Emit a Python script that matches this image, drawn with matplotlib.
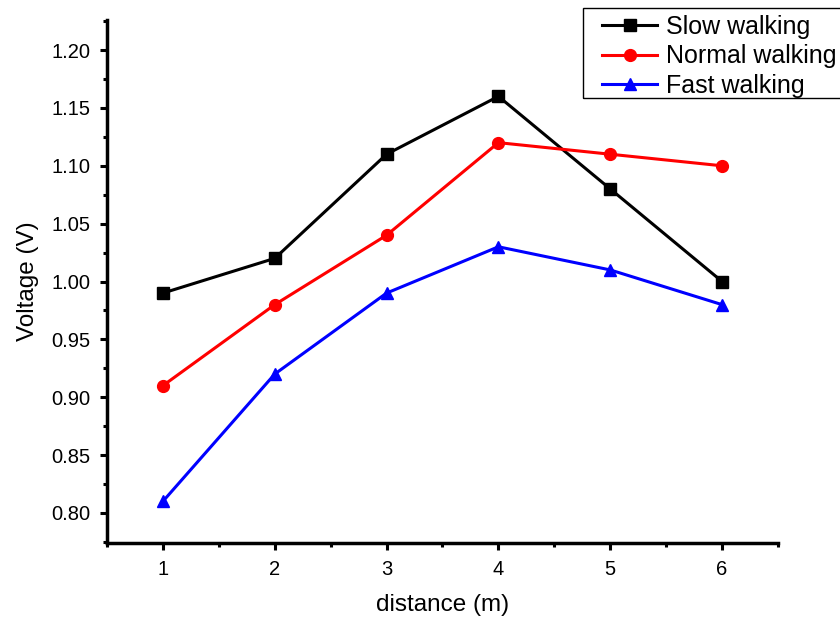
import matplotlib
matplotlib.use("Agg")
import matplotlib.pyplot as plt
from matplotlib.ticker import MultipleLocator
from matplotlib.patches import Rectangle

plt.rcParams['font.family'] = ['Liberation Sans', 'DejaVu Sans']

distance = [1, 2, 3, 4, 5, 6]
slow = [0.99, 1.02, 1.11, 1.16, 1.08, 1.00]
normal = [0.91, 0.98, 1.04, 1.12, 1.11, 1.10]
fast = [0.81, 0.92, 0.99, 1.03, 1.01, 0.98]
labels = ["Slow walking", "Normal walking", "Fast walking"]

W, H = 840, 618
fig = plt.figure(figsize=(8.4, 6.18), dpi=100)
ax = fig.add_axes([107/W, 1-543/H, (778-107)/W, (543-20)/H])

ax.plot(distance, slow, color='black', marker='s', lw=2.2, ms=8, label=labels[0])
ax.plot(distance, normal, color='red', marker='o', lw=2.2, ms=8.5, label=labels[1])
ax.plot(distance, fast, color='blue', marker='^', lw=2.2, ms=9, label=labels[2])

ax.set_xlim(0.5, 6.5)
ax.set_ylim(0.774, 1.226)
ax.xaxis.set_major_locator(MultipleLocator(1))
ax.xaxis.set_minor_locator(MultipleLocator(0.5))
ax.yaxis.set_major_locator(MultipleLocator(0.05))
ax.yaxis.set_minor_locator(MultipleLocator(0.025))
ax.yaxis.set_major_formatter(plt.FuncFormatter(lambda v, p: f"{v:.2f}"))

for s in ['top', 'right']:
    ax.spines[s].set_visible(False)
for s in ['left', 'bottom']:
    ax.spines[s].set_linewidth(2.5)
ax.tick_params(which='major', direction='out', length=5, width=2.2, labelsize=14.5, pad=7)
ax.tick_params(which='minor', direction='out', length=3, width=2.2)

ax.set_xlabel("distance (m)", fontsize=17.5, labelpad=11)
ax.set_ylabel("Voltage (V)", fontsize=17.5, labelpad=9)

leg = fig.legend(loc='upper left', bbox_to_anchor=(602/W, 1-15/H), fontsize=18,
                 frameon=False, handlelength=2.2, handletextpad=0.36,
                 labelspacing=0.22, borderpad=0, borderaxespad=0)

fig.patches.append(Rectangle((583/W, 1-98/H), (850-583)/W, 90/H, transform=fig.transFigure,
                             fill=False, edgecolor='black', lw=1.0))

fig.savefig("out.png", dpi=100)
